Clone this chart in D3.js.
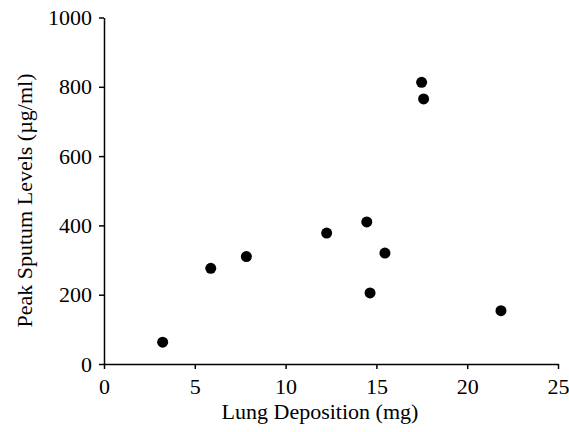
<!DOCTYPE html>
<html><head><meta charset="utf-8">
<script src="https://cdn.jsdelivr.net/npm/d3@7"></script>
<style>body{margin:0;background:#fff}svg{display:block}text{font-family:"Liberation Serif","DejaVu Serif",serif;fill:#000}</style>
</head><body>
<script>
const depositionMg = [3.23, 5.88, 7.84, 12.26, 14.47, 14.65, 15.47, 17.49, 17.6, 21.86];
const sputumLevels = [63, 276, 310, 378, 410, 205, 320, 813, 765, 154];
const xTicks = [0, 5, 10, 15, 20, 25];
const yTicks = [0, 200, 400, 600, 800, 1000];
const xTitle = "Lung Deposition (mg)";
const yTitle = "Peak Sputum Levels (µg/ml)";

const W = 569, H = 432;
const svg = d3.select("body").append("svg").attr("width", W).attr("height", H);
const x = d3.scaleLinear().domain([0, 25]).range([104, 558]);
const y = d3.scaleLinear().domain([0, 1000]).range([364, 17.5]);

const xa = svg.append("g").attr("transform", "translate(0,364)")
  .call(d3.axisBottom(x).tickValues(xTicks).tickFormat(d3.format("d")).tickSize(5).tickPadding(9).tickSizeOuter(0));
const ya = svg.append("g").attr("transform", "translate(104,0)")
  .call(d3.axisLeft(y).tickValues(yTicks).tickFormat(d3.format("d")).tickSize(5).tickPadding(7).tickSizeOuter(0));
[xa, ya].forEach(a => {
  a.selectAll("path,line").attr("stroke", "#000").attr("stroke-width", 1.5);
  a.selectAll("text").style("font-size", "22px").style("font-family", '"Liberation Serif",serif').attr("fill", "#000");
});

svg.append("g").selectAll("circle").data(depositionMg).join("circle")
  .attr("cx", d => x(d)).attr("cy", (d, i) => y(sputumLevels[i])).attr("r", 5.5).attr("fill", "#000");

svg.append("text").attr("x", 320).attr("y", 419).attr("text-anchor", "middle")
  .style("font-size", "22px").text(xTitle);
svg.append("text").attr("transform", "translate(32,200.5) rotate(-90)").attr("text-anchor", "middle")
  .style("font-size", "22px").text(yTitle);
</script>
</body></html>
